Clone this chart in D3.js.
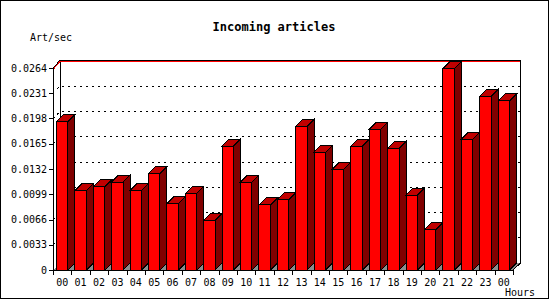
<!DOCTYPE html>
<html>
<head>
<meta charset="utf-8">
<script src="https://cdn.jsdelivr.net/npm/d3@7"></script>
<style>
  body { margin: 0; background: #fff; }
  text { font-family: "DejaVu Sans Mono", monospace; font-size: 10px; fill: #000; }
  path, line, rect { shape-rendering: crispEdges; }
</style>
</head>
<body>
<div id="div1"></div>
<script>

// hours on the x axis (last one is midnight again)
var hours = ["00","01","02","03","04","05","06","07","08","09","10","11","12",
             "13","14","15","16","17","18","19","20","21","22","23","00"];

// articles per second
var art_per_sec = [0.0194, 0.0104, 0.0109, 0.0115, 0.0104, 0.0126, 0.0087, 0.0100, 0.0065,
                   0.0162, 0.0115, 0.0085, 0.0092, 0.0188, 0.0154, 0.0132, 0.0162, 0.0184,
                   0.0159, 0.0098, 0.0053, 0.0263, 0.0171, 0.0227, 0.0221];

var y_ticks = [0, 0.0033, 0.0066, 0.0099, 0.0132, 0.0165, 0.0198, 0.0231, 0.0264];
var y_tick_labels = ["0","0.0033","0.0066","0.0099","0.0132","0.0165","0.0198","0.0231","0.0264"];
var max_value = 0.0264;

const width = 550, height = 300;
const depth = 7; // 3d offset, up and right

const svg = d3.select("#div1")
  .append("svg")
    .attr("width", width)
    .attr("height", height);

// outer frame
svg.append("rect")
  .attr("x", 0.5).attr("y", 0.5)
  .attr("width", 548).attr("height", 298)
  .attr("fill", "#fff")
  .attr("stroke", "#000");

const x = d3.scaleBand()
  .domain(d3.range(hours.length))
  .range([53, 513])
  .padding(0);

const y = d3.scaleLinear()
  .domain([0, max_value])
  .range([270, 68]);

const x0 = x.range()[0], x1 = x.range()[1];
const y0 = y(0);

// floor (grey, seen between the bars)
svg.append("path")
  .attr("d", `M${x0},${y0} L${x0 + depth},${y0 - depth} L${x1 + depth},${y0 - depth} L${x1},${y0} Z`)
  .attr("fill", "#8c8c8c");

// dotted grid lines on the back wall
svg.append("g")
  .selectAll("path")
  .data(y_ticks.filter(d => d > 0 && d < max_value))
  .join("path")
    .attr("d", d => `M${x0},${y(d)} L${x0 + depth},${y(d) - depth} L${x1 + depth},${y(d) - depth}`)
    .attr("fill", "none")
    .attr("stroke", "#000")
    .attr("stroke-dasharray", "2,4");

// back wall edges
svg.append("path")
  .attr("d", `M${x0 + depth + 0.5},${y0 - depth} L${x0 + depth + 0.5},${y(max_value) - depth}`)
  .attr("stroke", "#000").attr("fill", "none");
svg.append("path")
  .attr("d", `M${x0},${y(max_value)} L${x0 + depth},${y(max_value) - depth - 0.5} L${x1 + depth + 0.5},${y(max_value) - depth - 0.5} L${x1 + depth + 0.5},${y0 - depth} L${x1},${y0}`)
  .attr("stroke", "#000").attr("fill", "none");

// red max line
svg.append("path")
  .attr("d", `M${x0 + 1},${y(max_value) + 0.5} L${x0 + depth},${y(max_value) - depth + 0.5} L${x1 + depth},${y(max_value) - depth + 0.5}`)
  .attr("stroke", "#ff0000").attr("fill", "none");

// bars
const bw = x.bandwidth();
const off = bw * 0.19, fw = bw * 0.625;

const bars = svg.append("g")
  .selectAll("g")
  .data(art_per_sec)
  .join("g");

// side
bars.append("path")
  .attr("d", (d, i) => {
    var bx = x(i) + off + fw, t = y(d);
    return `M${bx},${t} L${bx + depth},${t - depth} L${bx + depth},${y0 - depth} L${bx},${y0} Z`;
  })
  .attr("fill", "#800000")
  .attr("stroke", "#000");

// top
bars.append("path")
  .attr("d", (d, i) => {
    var bx = x(i) + off, t = y(d);
    return `M${bx},${t} L${bx + depth},${t - depth} L${bx + fw + depth},${t - depth} L${bx + fw},${t} Z`;
  })
  .attr("fill", "#c00000")
  .attr("stroke", "#000");

// front
bars.append("rect")
  .attr("x", (d, i) => x(i) + off)
  .attr("y", d => y(d))
  .attr("width", fw)
  .attr("height", d => y0 - y(d))
  .attr("fill", "#ff0000")
  .attr("stroke", "#000");

// front y axis
svg.append("line")
  .attr("x1", x0 + 0.5).attr("x2", x0 + 0.5)
  .attr("y1", y(max_value)).attr("y2", y0)
  .attr("stroke", "#000");

const yax = svg.append("g");
yax.selectAll("line")
  .data(y_ticks)
  .join("line")
    .attr("x1", x0 - 4).attr("x2", x0)
    .attr("y1", d => Math.round(y(d)) + 0.5).attr("y2", d => Math.round(y(d)) + 0.5)
    .attr("stroke", "#000");
yax.selectAll("text")
  .data(y_ticks)
  .join("text")
    .attr("x", x0 - 6)
    .attr("y", d => y(d))
    .attr("dy", "0.35em")
    .attr("text-anchor", "end")
    .text((d, i) => y_tick_labels[i]);

// x axis
svg.append("line")
  .attr("x1", x0).attr("x2", x1)
  .attr("y1", y0 + 0.5).attr("y2", y0 + 0.5)
  .attr("stroke", "#000");

const xax = svg.append("g");
xax.selectAll("line")
  .data(d3.range(hours.length + 1))
  .join("line")
    .attr("x1", i => Math.round(x0 + i * bw) + 0.5).attr("x2", i => Math.round(x0 + i * bw) + 0.5)
    .attr("y1", y0).attr("y2", y0 + 5)
    .attr("stroke", "#000");
xax.selectAll("text")
  .data(hours)
  .join("text")
    .attr("x", (d, i) => x(i) + bw / 2)
    .attr("y", y0 + 12)
    .attr("dy", "0.35em")
    .attr("text-anchor", "middle")
    .text(d => d);

// titles
svg.append("text")
  .attr("x", 274).attr("y", 27)
  .attr("dy", "0.35em")
  .attr("text-anchor", "middle")
  .style("font-weight", "bold")
  .style("font-size", "12px")
  .text("Incoming articles");

svg.append("text")
  .attr("x", 30).attr("y", 37)
  .attr("dy", "0.35em")
  .text("Art/sec");

svg.append("text")
  .attr("x", 505).attr("y", 292)
  .attr("dy", "0.35em")
  .text("Hours");

</script>
</body>
</html>
